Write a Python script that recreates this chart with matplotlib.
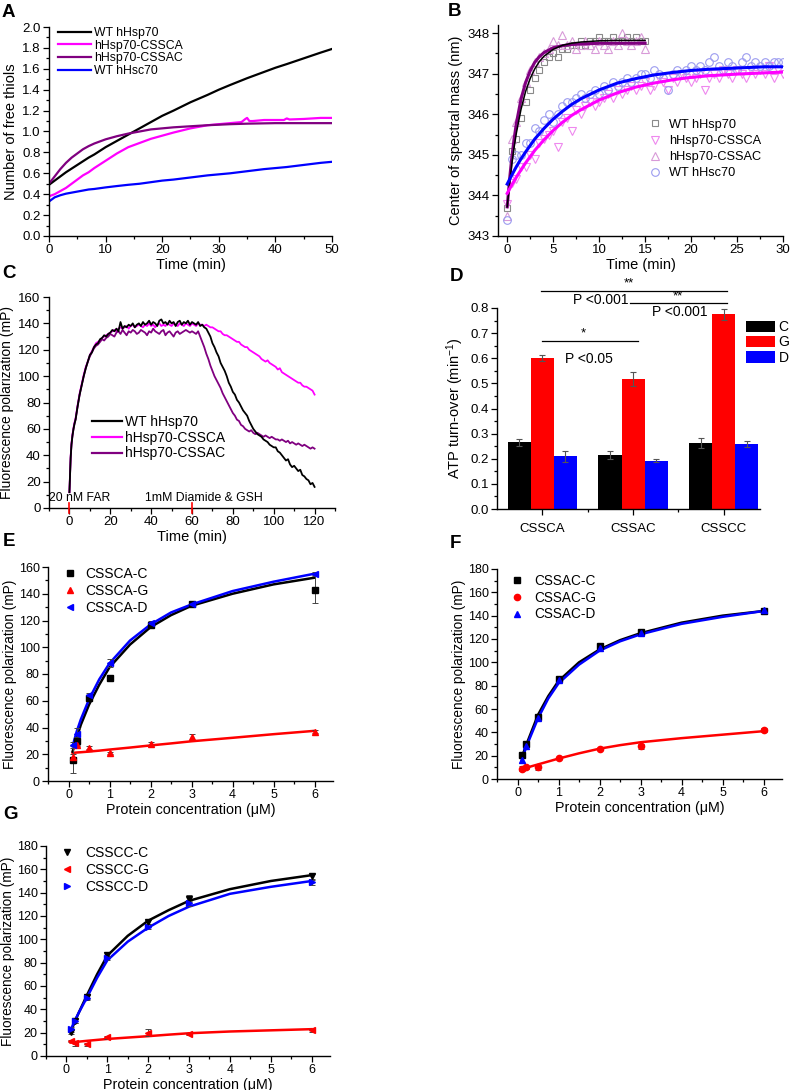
import numpy as np
import matplotlib
matplotlib.use('Agg')
import matplotlib.pyplot as plt
from matplotlib.ticker import MultipleLocator, FixedLocator
from matplotlib.lines import Line2D

plt.rcParams['font.family'] = ['Liberation Sans', 'DejaVu Sans']
plt.rcParams['mathtext.default'] = 'regular'

W, H = 791, 1090

# ---------------- data ----------------
# A: free thiols vs time
tA = [0, 1, 2, 3, 4, 5, 6, 7, 8, 10, 12, 14, 16, 18, 20, 22, 25, 28, 30, 32, 35, 38, 40, 42, 45, 48, 50]
a_wt70 = [0.49, 0.53, 0.57, 0.61, 0.645, 0.68, 0.715, 0.75, 0.78, 0.85, 0.91, 0.97, 1.03, 1.09, 1.15, 1.20,
          1.28, 1.35, 1.40, 1.445, 1.51, 1.57, 1.61, 1.645, 1.70, 1.755, 1.79]
a_cssac = [0.50, 0.57, 0.64, 0.70, 0.75, 0.79, 0.83, 0.86, 0.885, 0.925, 0.955, 0.98, 1.0, 1.02, 1.03, 1.04,
           1.05, 1.06, 1.065, 1.07, 1.075, 1.078, 1.08, 1.08, 1.08, 1.08, 1.08]
a_hsc70 = [0.33, 0.37, 0.39, 0.405, 0.415, 0.425, 0.435, 0.445, 0.45, 0.465, 0.478, 0.49, 0.50, 0.515, 0.53, 0.54,
           0.56, 0.58, 0.59, 0.60, 0.62, 0.64, 0.65, 0.66, 0.68, 0.70, 0.71]
tA_ca = [0, 1, 2, 3, 4, 5, 6, 7, 8, 10, 12, 14, 16, 18, 20, 22, 25, 28, 30, 32, 34, 34.7, 35, 35.4, 36, 38, 40,
         41.5, 42, 42.5, 45, 48, 50]
a_cssca = [0.38, 0.40, 0.43, 0.46, 0.50, 0.54, 0.58, 0.61, 0.65, 0.72, 0.79, 0.85, 0.89, 0.93, 0.96, 0.99,
           1.03, 1.06, 1.07, 1.08, 1.09, 1.12, 1.13, 1.10, 1.10, 1.11, 1.11, 1.11, 1.125, 1.115, 1.12, 1.13, 1.13]

# B: center of spectral mass, scatter + fits
tB15 = [0, 0.5, 1, 1.5, 2, 2.5, 3, 3.5, 4, 4.5, 5, 5.5, 6, 6.5, 7, 7.5, 8, 8.5, 9, 9.5, 10, 10.5, 11, 11.5,
        12, 12.5, 13, 13.5, 14, 14.5, 15]
b_wt70 = [343.7, 345.1, 345.4, 345.9, 346.3, 346.6, 346.9, 347.1, 347.3, 347.4, 347.5, 347.4, 347.6, 347.6,
          347.7, 347.7, 347.8, 347.7, 347.8, 347.8, 347.9, 347.8, 347.8, 347.9, 347.8, 347.8, 347.9, 347.8,
          347.9, 347.8, 347.8]
b_cssac = [343.5, 345.4, 345.8, 346.4, 346.8, 347.1, 347.3, 347.4, 347.5, 347.6, 347.8, 347.7, 347.95, 347.7,
           347.8, 347.6, 347.7, 347.8, 347.7, 347.6, 347.8, 347.7, 347.6, 347.8, 347.7, 348.0, 347.8, 347.7,
           347.8, 347.9, 347.6]
tB30 = [0, 0.5, 1, 1.5, 2, 2.5, 3, 3.5, 4, 4.5, 5, 5.5, 6, 6.5, 7, 7.5, 8, 8.5, 9, 9.5, 10, 10.5, 11, 11.5,
        12, 12.5, 13, 13.5, 14, 14.5, 15, 15.5, 16, 16.5, 17, 17.5, 18, 18.5, 19, 19.5, 20, 20.5, 21, 21.5,
        22, 22.5, 23, 23.5, 24, 24.5, 25, 25.5, 26, 26.5, 27, 27.5, 28, 28.5, 29, 29.5, 30]
b_cssca = [343.8, 344.3, 344.4, 344.7, 344.7, 345.0, 344.9, 345.3, 345.4, 345.5, 345.6, 345.2, 345.8, 345.9,
           345.6, 346.1, 346.0, 346.2, 346.3, 346.2, 346.3, 346.4, 346.5, 346.4, 346.6, 346.5, 346.6, 346.7,
           346.6, 346.7, 346.8, 346.6, 346.7, 346.9, 346.8, 346.6, 346.9, 346.8, 347.0, 346.9, 346.8, 346.9,
           347.0, 346.6, 346.9, 347.0, 346.9, 347.1, 347.0, 346.9, 347.1, 347.0, 346.9, 347.1, 347.0, 347.1,
           347.0, 347.2, 346.9, 347.1, 347.0]
b_hsc70 = [343.4, 344.9, 345.0, 345.0, 345.3, 345.3, 345.65, 345.6, 345.85, 346.0, 345.8, 346.0, 346.2, 346.3,
           346.3, 346.4, 346.5, 346.4, 346.5, 346.6, 346.5, 346.7, 346.6, 346.8, 346.7, 346.8, 346.9, 346.8,
           346.9, 347.0, 347.0, 346.9, 347.1, 347.0, 346.9, 346.6, 347.0, 347.1, 347.0, 347.1, 347.2, 347.1,
           347.2, 347.1, 347.3, 347.4, 347.2, 347.1, 347.3, 347.2, 347.1, 347.3, 347.4, 347.2, 347.3, 347.2,
           347.3, 347.2, 347.3, 347.3, 347.3]
tfit15 = [0, 0.25, 0.5, 0.75, 1, 1.5, 2, 2.5, 3, 3.5, 4, 5, 6, 7, 8, 10, 12, 15]
fit_wt70 = [343.72, 344.28, 344.77, 345.18, 345.54, 346.12, 346.56, 346.88, 347.12, 347.30, 347.43, 347.60,
            347.70, 347.75, 347.78, 347.81, 347.82, 347.82]
fit_cssac = [343.72, 344.38, 344.93, 345.39, 345.78, 346.37, 346.78, 347.07, 347.28, 347.42, 347.52, 347.64,
             347.69, 347.72, 347.73, 347.75, 347.75, 347.75]
tfit30 = [0, 0.5, 1, 1.5, 2, 3, 4, 5, 6, 7, 8, 10, 12, 14, 16, 18, 20, 22, 25, 28, 30]
fit_hsc70 = [344.28, 344.50, 344.71, 344.90, 345.07, 345.39, 345.65, 345.88, 346.07, 346.24, 346.38, 346.60,
             346.77, 346.88, 346.97, 347.03, 347.08, 347.11, 347.14, 347.17, 347.17]
fit_cssca = [344.05, 344.26, 344.45, 344.63, 344.80, 345.11, 345.37, 345.60, 345.80, 345.97, 346.11, 346.35,
             346.53, 346.67, 346.77, 346.85, 346.91, 346.95, 346.99, 347.02, 347.04]

# C: fluorescence polarization traces
tC = [0, 0.3, 0.6, 1, 1.5, 2, 2.5, 3, 4, 5, 6, 7, 8, 9, 10, 11, 12, 13, 14, 15, 16, 17, 18, 19, 20, 21, 22,
      23, 24, 25, 26, 27, 28, 29, 30, 31, 32, 33, 34, 35, 36, 37, 38, 39, 40, 41, 42, 43, 44, 45, 46, 47, 48,
      49, 50, 51, 52, 53, 54, 55, 56, 57, 58, 59, 60, 61, 62, 63, 64, 65, 66, 67, 68, 69, 70, 71, 72, 73, 74,
      75, 76, 77, 78, 79, 80, 81, 82, 83, 84, 85, 86, 87, 88, 89, 90, 91, 92, 93, 94, 95, 96, 97, 98, 99, 100,
      101, 102, 103, 104, 105, 106, 107, 108, 109, 110, 111, 112, 113, 114, 115, 116, 117, 118, 119, 120]
c_wt70 = [12, 25, 38, 48, 55, 60, 64, 67, 77, 86, 93, 100, 106, 111, 116, 118, 122, 124, 125, 128, 129, 131,
          130, 132, 133, 135, 134, 136, 134, 141, 136, 138, 137, 139, 138, 140, 137, 139, 140, 138, 141, 139,
          140, 142, 139, 141, 140, 138, 142, 143, 140, 141, 139, 142, 140, 141, 138, 141, 142, 139, 141, 140,
          142, 139, 141, 140, 139, 141, 138, 139, 137, 136, 133, 130, 125, 122, 118, 115, 110, 107, 104, 100,
          95, 92, 88, 86, 82, 80, 77, 74, 72, 70, 66, 63, 60, 58, 56, 55, 54, 52, 51, 50, 48, 47, 46, 46, 43,
          42, 40, 38, 36, 37, 33, 31, 32, 30, 28, 29, 25, 24, 22, 21, 18, 19, 16]
c_cssca = [12, 26, 39, 49, 56, 61, 65, 68, 78, 87, 94, 101, 107, 111, 116, 119, 122, 125, 126, 127, 129,
           130, 131, 132, 133, 134, 135, 134, 136, 137, 136, 137, 138, 136, 138, 139, 137, 138, 139, 138, 137,
           139, 138, 140, 138, 139, 137, 139, 140, 138, 139, 138, 140, 139, 138, 140, 139, 138, 140, 139, 138,
           140, 139, 138, 140, 139, 138, 140, 139, 139, 138, 139, 138, 137, 137, 136, 135, 134, 134, 132, 131,
           131, 130, 129, 128, 127, 126, 126, 124, 123, 122, 122, 120, 119, 118, 117, 116, 115, 113, 112, 111,
           112, 110, 109, 108, 107, 105, 106, 103, 102, 101, 100, 99, 98, 97, 96, 95, 95, 93, 92, 92, 91, 90,
           89, 86]
c_cssac = [12, 25, 38, 48, 55, 60, 64, 67, 77, 86, 93, 100, 106, 111, 115, 118, 121, 123, 124, 126, 128, 127,
           129, 130, 132, 131, 130, 133, 134, 132, 135, 133, 131, 134, 133, 135, 134, 132, 133, 135, 134, 133,
           131, 134, 133, 136, 134, 133, 132, 134, 135, 131, 133, 134, 132, 130, 133, 134, 132, 133, 134, 135,
           134, 133, 134, 133, 132, 134, 130, 126, 122, 117, 113, 108, 104, 100, 97, 94, 91, 87, 84, 81, 78, 75,
           72, 70, 67, 66, 63, 62, 60, 59, 58, 59, 57, 56, 57, 56, 55, 54, 55, 54, 53, 54, 53, 52, 52, 51, 52, 51,
           50, 51, 49, 50, 49, 48, 49, 48, 47, 48, 47, 46, 45, 46, 45]

# D: ATP turnover
d_cats = ['CSSCA', 'CSSAC', 'CSSCC']
d_C = [0.265, 0.214, 0.263]
d_G = [0.601, 0.516, 0.776]
d_D = [0.210, 0.192, 0.258]
d_Cerr = [0.013, 0.015, 0.020]
d_Gerr = [0.012, 0.028, 0.022]
d_Derr = [0.022, 0.006, 0.013]

# E-G: binding curves
conc = [0.1, 0.2, 0.5, 1, 2, 3, 6]
xfit = [0.1, 0.2, 0.3, 0.5, 0.75, 1, 1.5, 2, 2.5, 3, 4, 5, 6]

e_C = [16, 30, 62, 77, 117, 132, 143]
e_G = [18, 27, 25, 21, 28, 33, 37]
e_D = [27, 35, 64, 88, 118, 132, 155]
e_Cerr = [10, 3, 2, 2, 2, 2, 10]
e_Gerr = [2, 1, 1, 1, 1, 2, 1]
e_Derr = [2, 5, 2, 3, 2, 2, 1]
e_fitC = [22, 32, 42, 57, 72, 85, 102, 115, 124, 131, 140, 147, 152]
e_fitD = [26, 37, 46, 61, 76, 88, 105, 117, 126, 132, 142, 149, 155]
e_fitG = [21, 21.3, 21.5, 22, 22.7, 23.5, 25, 26.6, 28.1, 29.7, 32.3, 35, 37.5]

f_C = [21, 30, 53, 86, 114, 126, 144]
f_G = [9, 10, 10, 18, 26, 28, 42]
f_D = [16, 28, 52, 85, 112, 125, 145]
f_Cerr = [2, 2, 2, 2, 2, 2, 1]
f_Gerr = [2, 1, 2, 1, 1, 2, 2]
f_Derr = [2, 2, 2, 2, 2, 2, 1]
f_fitC = [18, 28, 37, 55, 71, 84, 100, 111, 119, 125, 134, 140, 144]
f_fitD = [16, 26, 35, 52, 69, 82, 98, 110, 118, 124, 133, 139, 144]
f_fitG = [8, 9.5, 10.5, 12.5, 15, 17.5, 22, 26, 29, 31.5, 35, 38, 41]

g_C = [21, 30, 51, 87, 115, 135, 154]
g_G = [13, 11, 10, 16, 20, 19, 22]
g_D = [23, 30, 50, 84, 111, 131, 149]
g_Cerr = [2, 2, 2, 2, 2, 3, 2]
g_Gerr = [1, 2, 1, 1, 3, 1, 1]
g_Derr = [2, 2, 2, 2, 2, 2, 2]
g_fitC = [20, 29, 37, 52, 70, 86, 103, 116, 125, 133, 143, 150, 155]
g_fitD = [22, 30, 37, 50, 67, 82, 98, 110, 120, 128, 139, 145, 150]
g_fitG = [11.5, 12, 12.3, 13, 13.8, 14.6, 15.8, 17, 18.3, 19.5, 21, 22, 23]

LAB = 10


def px_axes(l, t, r, b):
    return fig.add_axes([l / W, 1 - b / H, (r - l) / W, (b - t) / H])


def style(ax, fs=9.5):
    for s in ['top', 'right']:
        ax.spines[s].set_visible(False)
    for s in ['left', 'bottom']:
        ax.spines[s].set_linewidth(1.0)
    ax.tick_params(which='major', direction='out', length=4, width=0.9, labelsize=fs, pad=2)
    ax.tick_params(which='minor', direction='out', length=2.2, width=0.9)


fig = plt.figure(figsize=(W / 100, H / 100), dpi=100)

# ---------------- A ----------------
ax = px_axes(49, 27, 332, 236)
ax.plot(tA, a_wt70, color='black', lw=1.6, label='WT hHsp70')
ax.plot(tA_ca, a_cssca, color='#FF00FF', lw=1.6, label='hHsp70-CSSCA')
ax.plot(tA, a_cssac, color='#800080', lw=1.6, label='hHsp70-CSSAC')
ax.plot(tA, a_hsc70, color='#0000FF', lw=1.6, label='WT hHsc70')
ax.set_xlim(0, 50)
ax.set_ylim(0, 2.0)
ax.xaxis.set_major_locator(MultipleLocator(10))
ax.xaxis.set_minor_locator(MultipleLocator(5))
ax.yaxis.set_major_locator(MultipleLocator(0.2))
ax.yaxis.set_minor_locator(MultipleLocator(0.1))
ax.yaxis.set_major_formatter(matplotlib.ticker.StrMethodFormatter('{x:.1f}'))
style(ax)
ax.set_xlabel('Time (min)', fontsize=LAB + 0.5, labelpad=1)
ax.set_ylabel('Number of free thiols', fontsize=LAB + 0.5, labelpad=3)
ax.legend(loc='upper left', bbox_to_anchor=(0.032, 1.0), frameon=False, fontsize=8.8,
          handlelength=2.7, handletextpad=0.25, labelspacing=0.05, borderpad=0, borderaxespad=0)

# ---------------- B ----------------
ax = px_axes(498, 25, 783, 236)
ms = 5.5
ax.plot(tB15, b_wt70, 's', ms=ms - 0.5, mfc='none', mec='#8a8a8a', mew=0.8, label='WT hHsp70')
ax.plot(tB30, b_cssca, 'v', ms=ms, mfc='none', mec='#EE88EE', mew=0.8, label='hHsp70-CSSCA')
ax.plot(tB15, b_cssac, '^', ms=ms, mfc='none', mec='#D89AD8', mew=0.8, label='hHsp70-CSSAC')
ax.plot(tB30, b_hsc70, 'o', ms=ms, mfc='none', mec='#9C9CF0', mew=0.8, label='WT hHsc70')
ax.plot(tfit15, fit_cssac, color='#800080', lw=2.2)
ax.plot(tfit15, fit_wt70, color='black', lw=1.1)
ax.plot(tfit30, fit_cssca, color='#FF00FF', lw=2.2)
ax.plot(tfit30, fit_hsc70, color='#0000FF', lw=2.2)
ax.set_xlim(-1, 30)
ax.set_ylim(343, 348.2)
ax.xaxis.set_major_locator(MultipleLocator(5))
ax.xaxis.set_minor_locator(MultipleLocator(2.5))
ax.yaxis.set_major_locator(MultipleLocator(1))
ax.yaxis.set_minor_locator(MultipleLocator(0.5))
style(ax)
ax.set_xlabel('Time (min)', fontsize=LAB + 0.5, labelpad=1)
ax.set_ylabel('Center of spectral mass (nm)', fontsize=LAB + 0.5, labelpad=3)
ax.legend(loc='upper left', bbox_to_anchor=(0.53, 0.555), frameon=False, fontsize=9.2, numpoints=1,
          handlelength=1.0, handletextpad=0.55, labelspacing=0.32, borderpad=0, borderaxespad=0)

# ---------------- C ----------------
ax = px_axes(49, 297, 335, 508)
ax.plot(tC, c_cssca, color='#FF00FF', lw=1.3, zorder=2)
ax.plot(tC, c_wt70, color='black', lw=1.3, zorder=3)
ax.plot(tC, c_cssac, color='#800080', lw=1.3, zorder=2)
ax.plot([], [], color='black', lw=1.6, label='WT hHsp70')
ax.plot([], [], color='#FF00FF', lw=1.6, label='hHsp70-CSSCA')
ax.plot([], [], color='#800080', lw=1.6, label='hHsp70-CSSAC')
ax.set_xlim(-10, 130)
ax.set_ylim(0, 160)
ax.xaxis.set_major_locator(MultipleLocator(20))
ax.xaxis.set_minor_locator(MultipleLocator(10))
ax.yaxis.set_major_locator(MultipleLocator(20))
ax.yaxis.set_minor_locator(MultipleLocator(10))
style(ax)
for xm in [0, 60]:
    ax.plot([xm, xm], [-4, 4], color='red', lw=1.2, clip_on=False, zorder=5)
ax.text(-10, 7.5, '20 nM FAR', fontsize=8.8, va='center', ha='left')
ax.text(66, 7.5, '1mM Diamide & GSH', fontsize=8.8, va='center', ha='center')
ax.set_xlabel('Time (min)', fontsize=LAB + 0.5, labelpad=1)
ax.set_ylabel('Fluorescence polarization (mP)', fontsize=LAB, labelpad=3)
ax.legend(loc='upper left', bbox_to_anchor=(0.15, 0.44), frameon=False, fontsize=10,
          handlelength=2.2, handletextpad=0.2, labelspacing=0.12, borderpad=0, borderaxespad=0)

# ---------------- D ----------------
ax = px_axes(497, 308, 760, 509)
x = np.arange(1, len(d_cats) + 1)
bw = 0.254
ekw = dict(ecolor='#555555', elinewidth=0.8, capsize=2.5, capthick=0.8)
ax.bar(x - bw, d_C, bw, color='black', yerr=d_Cerr, error_kw=ekw, label='C')
ax.bar(x, d_G, bw, color='#FF0000', yerr=d_Gerr, error_kw=ekw, label='G')
ax.bar(x + bw, d_D, bw, color='#0000FF', yerr=d_Derr, error_kw=ekw, label='D')
ax.set_xlim(0.5, 3.4)
ax.set_ylim(0, 0.8)
ax.set_xticks(x)
ax.set_xticklabels(d_cats, fontsize=9.8)
ax.xaxis.set_minor_locator(FixedLocator([1.5, 2.5]))
ax.yaxis.set_major_locator(MultipleLocator(0.1))
ax.yaxis.set_minor_locator(MultipleLocator(0.05))
ax.yaxis.set_major_formatter(matplotlib.ticker.StrMethodFormatter('{x:.1f}'))
style(ax)
ax.tick_params(axis='x', which='major', pad=6)
ax.set_ylabel('ATP turn-over (min$^{-1}$)', fontsize=LAB + 0.5, labelpad=3)
sig = dict(color='black', lw=0.9, clip_on=False)
ax.plot([0.98, 3.04], [0.868, 0.868], **sig)
ax.text(1.95, 0.872, '**', ha='center', va='bottom', fontsize=9.5)
ax.text(1.64, 0.832, 'P <0.001', ha='center', va='center', fontsize=10)
ax.plot([1.97, 3.04], [0.82, 0.82], **sig)
ax.text(2.49, 0.824, '**', ha='center', va='bottom', fontsize=9.5)
ax.text(2.52, 0.784, 'P <0.001', ha='center', va='center', fontsize=10)
ax.plot([1.0, 2.05], [0.669, 0.669], **sig)
ax.text(1.45, 0.673, '*', ha='center', va='bottom', fontsize=9.5)
ax.text(1.51, 0.597, 'P <0.05', ha='center', va='center', fontsize=10)
ax.legend(loc='upper left', bbox_to_anchor=(0.947, 0.94), frameon=False, fontsize=10,
          handlelength=2.1, handleheight=0.86, handletextpad=0.25, labelspacing=0.1,
          borderpad=0, borderaxespad=0)


# ---------------- E, F, G ----------------
def binding(rect, C, G, D, Ce, Ge, De, fC, fG, fD, mk, names, ymax, lg):
    ax = px_axes(*rect)
    ax.plot(xfit, fG, color='#FF0000', lw=1.8, zorder=2)
    ax.plot(xfit, fC, color='black', lw=1.8, zorder=2)
    ax.plot(xfit, fD, color='#0000FF', lw=1.8, zorder=2)
    cols = ['black', '#FF0000', '#0000FF']
    handles = []
    for vals, errs, m, c, n in zip([C, G, D], [Ce, Ge, De], mk, cols, names):
        ax.errorbar(conc, vals, yerr=errs, fmt=m, color=c, ms=4.5, ecolor='#444444', elinewidth=0.7,
                    capsize=2, capthick=0.7, zorder=3)
        handles.append(Line2D([], [], marker=m, ls='none', color=c, ms=4.5, label=n))
    ax.set_xlim(-0.5, 6.45)
    ax.set_ylim(0, ymax)
    ax.xaxis.set_major_locator(MultipleLocator(1))
    ax.xaxis.set_minor_locator(MultipleLocator(0.5))
    ax.yaxis.set_major_locator(MultipleLocator(20))
    ax.yaxis.set_minor_locator(MultipleLocator(10))
    style(ax, fs=9)
    ax.set_xlabel('Protein concentration (\u03bcM)', fontsize=LAB + 0.3, labelpad=1)
    ax.set_ylabel('Fluorescence polarization (mP)', fontsize=9.8, labelpad=1.5)
    ax.legend(handles=handles, loc='upper left', bbox_to_anchor=lg[:2], frameon=False, fontsize=lg[2],
              numpoints=1, handlelength=1.0, handletextpad=lg[3], labelspacing=0.2,
              borderpad=0, borderaxespad=0)
    return ax


binding((48, 567, 333, 781), e_C, e_G, e_D, e_Cerr, e_Gerr, e_Derr, e_fitC, e_fitG, e_fitD,
        ['s', '^', '<'], ['CSSCA-C', 'CSSCA-G', 'CSSCA-D'], 160, (0.053, 1.0, 10, 0.6))
binding((497, 569, 782, 779), f_C, f_G, f_D, f_Cerr, f_Gerr, f_Derr, f_fitC, f_fitG, f_fitD,
        ['s', 'o', '^'], ['CSSAC-C', 'CSSAC-G', 'CSSAC-D'], 180, (0.046, 0.976, 9.8, 0.8))
binding((46, 846, 330, 1056), g_C, g_G, g_D, g_Cerr, g_Gerr, g_Derr, g_fitC, g_fitG, g_fitD,
        ['v', '<', '>'], ['CSSCC-C', 'CSSCC-G', 'CSSCC-D'], 180, (0.049, 1.0, 10, 0.8))

# panel letters
for lab, xp, yp in [('A', 2, 4), ('B', 448, 3), ('C', 2, 265), ('D', 450, 268),
                    ('E', 3, 533), ('F', 450, 535), ('G', 3, 806)]:
    fig.text(xp / W, 1 - yp / H, lab, fontsize=13.5, fontweight='bold', ha='left', va='top')

fig.savefig('out.png', dpi=100)
